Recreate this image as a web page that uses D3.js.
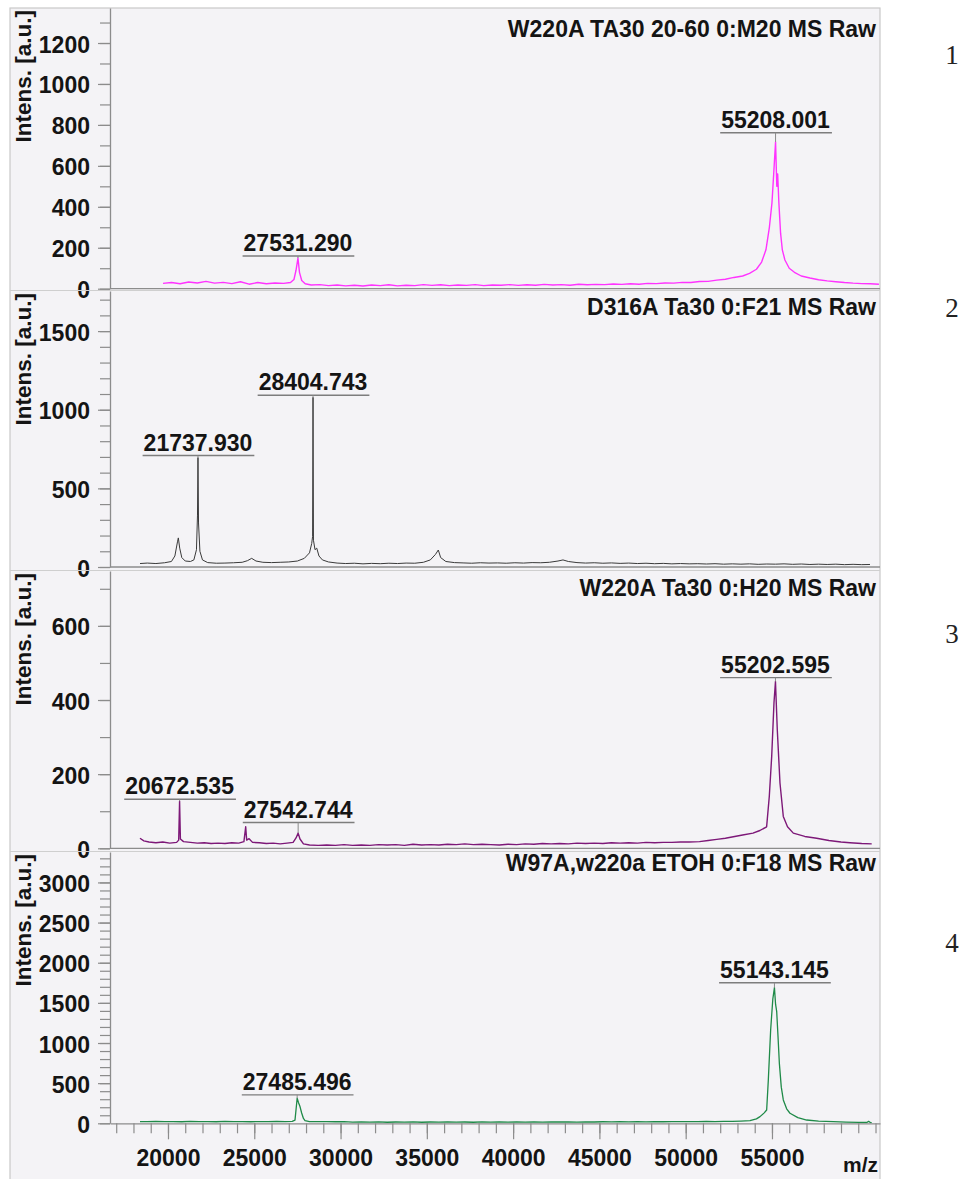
<!DOCTYPE html>
<html>
<head>
<meta charset="utf-8">
<script src="https://cdn.jsdelivr.net/npm/d3@7"></script>
<style>
  body { margin: 0; background: #ffffff; }
  svg text { font-family: "Liberation Sans", Arial, Helvetica, sans-serif; font-weight: bold; fill: #141414; }
  svg text.panel-no { font-family: "Liberation Serif", "Times New Roman", serif; font-weight: normal; fill: #222; }
</style>
</head>
<body>
<svg id="chart" width="962" height="1179"></svg>
<script>
// ---- m/z axis ----
const mzDomain = [16640, 61260];
const mzMajorTicks = [20000, 25000, 30000, 35000, 40000, 45000, 50000, 55000];
const mzMinorTicks = d3.range(17000, 61001, 1000);

// ---- spectrum titles ----
const titles = [
  "W220A TA30 20-60 0:M20 MS Raw",
  "D316A Ta30 0:F21 MS Raw",
  "W220A Ta30 0:H20 MS Raw",
  "W97A,w220a ETOH 0:F18 MS Raw"
];
const panelNumbers = ["1", "2", "3", "4"];

// ---- intensity axes ----
const intensMax = [1371, 1755, 748, 3379];
const intensTicks = [
  [0, 200, 400, 600, 800, 1000, 1200],
  [0, 500, 1000, 1500],
  [0, 200, 400, 600],
  [0, 500, 1000, 1500, 2000, 2500, 3000]
];

// ---- spectra: [m/z, intensity] ----
const spectrumW220A_M20 = [
  [19710, 26], [20200, 30], [20700, 24], [21200, 33], [21700, 28], [22200, 36], [22700, 27],
  [23200, 31], [23700, 25], [24200, 34], [24700, 22], [25200, 30], [25700, 24], [26200, 28],
  [26700, 26], [27100, 30], [27300, 45], [27420, 90], [27531.290, 150], [27620, 80], [27750, 40],
  [27950, 24], [28300, 18], [28800, 20], [29300, 15], [29800, 18], [30300, 14], [30800, 17],
  [31300, 13], [31800, 18], [32300, 15], [32800, 19], [33300, 14], [33800, 17], [34300, 15],
  [34800, 20], [35300, 16], [35800, 19], [36300, 15], [36800, 18], [37300, 16], [37800, 20],
  [38300, 15], [38800, 18], [39300, 17], [39800, 20], [40300, 16], [40800, 19], [41300, 17],
  [41800, 21], [42300, 18], [42800, 20], [43300, 17], [43800, 22], [44300, 19], [44800, 21],
  [45300, 20], [45800, 23], [46300, 21], [46800, 24], [47300, 22], [47800, 26], [48300, 25],
  [48800, 28], [49300, 27], [49800, 31], [50300, 30], [50800, 35], [51300, 36], [51800, 42],
  [52300, 46], [52800, 55], [53300, 62], [53700, 75], [54100, 95], [54400, 130], [54650, 190],
  [54850, 300], [55000, 420], [55100, 560], [55208.001, 717], [55280, 500], [55330, 560],
  [55400, 420], [55500, 270], [55600, 190], [55750, 140], [56000, 100], [56300, 80], [56700, 62],
  [57200, 52], [57700, 44], [58200, 38], [58700, 34], [59200, 30], [59700, 27], [60200, 25],
  [60700, 24], [61200, 22]
];

const spectrumD316A_F21 = [
  [18380, 22], [18800, 25], [19300, 22], [19800, 27], [20200, 35], [20400, 70], [20550, 160],
  [20600, 185], [20680, 120], [20800, 60], [21000, 38], [21300, 35], [21500, 45], [21650, 110],
  [21710, 330], [21737.930, 696], [21770, 280], [21850, 100], [22000, 45], [22300, 28], [22800, 24],
  [23300, 25], [23800, 27], [24300, 30], [24600, 40], [24850, 55], [25100, 38], [25500, 30],
  [26000, 28], [26500, 30], [27000, 32], [27500, 38], [27900, 55], [28200, 90], [28330, 150],
  [28380, 195], [28404.743, 1079], [28430, 170], [28520, 110], [28620, 120], [28750, 70],
  [28950, 45], [29300, 32], [29800, 25], [30300, 22], [30800, 24], [31300, 20], [31800, 23],
  [32300, 21], [32800, 24], [33300, 22], [33800, 25], [34300, 24], [34800, 30], [35200, 45],
  [35500, 80], [35665, 108], [35800, 60], [36100, 35], [36600, 28], [37100, 26], [37600, 24],
  [38100, 27], [38600, 25], [39100, 26], [39600, 24], [40100, 27], [40600, 25], [41100, 28],
  [41600, 27], [42100, 30], [42600, 38], [42890, 45], [43200, 35], [43700, 28], [44200, 25],
  [44700, 27], [45200, 24], [45700, 26], [46200, 23], [46700, 25], [47200, 22], [47700, 24],
  [48200, 21], [48700, 23], [49200, 20], [49700, 22], [50200, 20], [50700, 21], [51200, 19],
  [51700, 21], [52200, 18], [52700, 20], [53200, 18], [53700, 20], [54200, 17], [54700, 19],
  [55200, 18], [55700, 20], [56200, 17], [56700, 19], [57200, 16], [57700, 18], [58200, 16],
  [58700, 18], [59200, 15], [59700, 17], [60200, 15], [60680, 16]
];

const spectrumW220A_H20 = [
  [18378, 27], [18600, 20], [18900, 17], [19300, 15], [19700, 17], [20100, 14], [20500, 16],
  [20620, 22], [20672.535, 127], [20720, 25], [20900, 18], [21300, 16], [21700, 14], [22100, 15],
  [22500, 13], [22900, 14], [23300, 13], [23700, 15], [24100, 14], [24400, 18], [24503, 58],
  [24560, 22], [24700, 26], [24900, 16], [25300, 15], [25700, 13], [26100, 14], [26500, 12],
  [26900, 14], [27250, 16], [27420, 28], [27542.744, 41], [27650, 25], [27850, 12], [28200, 9],
  [28700, 8], [29200, 9], [29700, 8], [30200, 10], [30700, 8], [31200, 9], [31700, 8], [32200, 10],
  [32700, 9], [33200, 10], [33700, 8], [34200, 11], [34700, 9], [35200, 10], [35700, 9], [36200, 11],
  [36700, 10], [37200, 12], [37700, 10], [38200, 11], [38700, 10], [39200, 9], [39700, 11],
  [40200, 10], [40700, 12], [41200, 11], [41700, 13], [42200, 12], [42700, 13], [43200, 12],
  [43700, 14], [44200, 13], [44700, 14], [45200, 13], [45700, 15], [46200, 14], [46700, 15],
  [47200, 14], [47700, 16], [48200, 15], [48700, 16], [49200, 16], [49700, 17], [50200, 17],
  [50800, 18], [51300, 21], [51800, 24], [52300, 27], [52760, 31], [53300, 36], [53900, 41],
  [54300, 48], [54690, 58], [54845, 140], [54984, 248], [55117, 393], [55202.595, 450],
  [55308, 320], [55464, 176], [55656, 86], [55900, 58], [56236, 41], [56900, 32], [57590, 27],
  [58300, 21], [59000, 17], [59520, 15], [60200, 13], [60780, 12]
];

const spectrumW97A_F18 = [
  [18378, 22], [18800, 20], [19300, 24], [19800, 20], [20300, 22], [20800, 19], [21300, 23],
  [21800, 20], [22300, 22], [22800, 19], [23300, 23], [23800, 20], [24300, 22], [24800, 19],
  [25300, 22], [25800, 20], [26300, 23], [26800, 21], [27200, 24], [27360, 40], [27485.496, 312],
  [27560, 260], [27650, 208], [27746, 128], [27850, 60], [27940, 33], [28200, 22], [28700, 20],
  [29200, 22], [29700, 19], [30200, 21], [30700, 15], [31200, 18], [31700, 14], [32200, 17],
  [32700, 13], [33200, 16], [33700, 14], [34200, 17], [34700, 13], [35200, 16], [35700, 14],
  [36200, 17], [36700, 14], [37200, 16], [37700, 13], [38200, 17], [38700, 14], [39200, 16],
  [39700, 15], [40200, 17], [40700, 14], [41200, 18], [41700, 15], [42200, 17], [42700, 16],
  [43200, 18], [43700, 15], [44200, 18], [44700, 16], [45200, 19], [45700, 17], [46200, 19],
  [46700, 17], [47200, 20], [47700, 18], [48200, 21], [48700, 19], [49200, 21], [49700, 20],
  [50200, 22], [50700, 21], [51200, 23], [51700, 22], [52200, 24], [52700, 25], [53200, 28],
  [53726, 33], [54100, 55], [54306, 83], [54550, 130], [54692, 166], [54789, 541], [54924, 1166],
  [55050, 1550], [55143.145, 1690], [55210, 1480], [55273, 1395], [55350, 1080], [55427, 750],
  [55540, 450], [55657, 291], [55850, 180], [56044, 125], [56500, 70], [57010, 41], [57700, 28],
  [58555, 20], [59300, 15], [60000, 11], [60500, 10], [60600, 25], [60700, 9], [60780, 8]
];

const spectra = [spectrumW220A_M20, spectrumD316A_F21, spectrumW220A_H20, spectrumW97A_F18];
const spectrumColors = ["#ff33ff", "#3a3a3a", "#7d1878", "#1f8a48"];
const spectrumWidths = [1.4, 1.0, 1.4, 1.3];

// ---- annotated peak lists: [m/z, reported intensity] ----
const peaksW220A_M20 = [[27531.290, 150], [55208.001, 752]];
const peaksD316A_F21 = [[21737.930, 696], [28404.743, 1079]];
const peaksW220A_H20 = [[20672.535, 127], [27542.744, 64], [55202.595, 455]];
const peaksW97A_F18 = [[27485.496, 329], [55143.145, 1725]];
const peakLists = [peaksW220A_M20, peaksD316A_F21, peaksW220A_H20, peaksW97A_F18];

// ---- layout ----
const plotLeft = 110, plotRight = 880;
const panels = [
  { top: 8,   zero: 288.7 },
  { top: 291, zero: 567 },
  { top: 571, zero: 848.3 },
  { top: 852, zero: 1123.3 }
];
const numberBaselines = [64, 317, 643, 952];
const axisGray = "#8c8c8c";

const svg = d3.select("#chart");

// frame background
svg.append("rect")
  .attr("x", 10).attr("y", 8)
  .attr("width", 870).attr("height", 1185)
  .attr("fill", "#f4f3f6")
  .attr("stroke", "#c9c9c9").attr("stroke-width", 1.2);

const x = d3.scaleLinear().domain(mzDomain).range([plotLeft, plotRight]);
const fmtMz = d3.format(".3f");

panels.forEach((p, i) => {
  const y = d3.scaleLinear().domain([0, intensMax[i]]).range([p.zero, p.top]);
  const g = svg.append("g");

  // separator above lower panels
  if (i > 0) {
    g.append("line")
      .attr("x1", 10).attr("x2", plotRight)
      .attr("y1", p.top - 0.5).attr("y2", p.top - 0.5)
      .attr("stroke", "#cfcfcf").attr("stroke-width", 1.2);
  }

  // clip for the trace
  const clipId = "clip" + i;
  svg.append("clipPath").attr("id", clipId)
    .append("rect")
    .attr("x", plotLeft).attr("y", p.top)
    .attr("width", plotRight - plotLeft).attr("height", p.zero - p.top);

  // minor intensity ticks
  const minorAxis = d3.axisLeft(y)
    .tickValues(d3.range(0, intensMax[i], 100))
    .tickSize(10).tickSizeOuter(0).tickFormat("");
  const gMinor = g.append("g").attr("transform", `translate(${plotLeft},0)`).call(minorAxis);
  gMinor.select(".domain").remove();
  gMinor.selectAll(".tick line").attr("stroke", axisGray).attr("stroke-width", 1.2);

  // major intensity ticks and labels
  const majorAxis = d3.axisLeft(y)
    .tickValues(intensTicks[i])
    .tickSize(12).tickSizeOuter(0).tickPadding(8)
    .tickFormat(d3.format("d"));
  const gMajor = g.append("g").attr("transform", `translate(${plotLeft},0)`).call(majorAxis);
  gMajor.select(".domain").attr("stroke", axisGray).attr("stroke-width", 1.3);
  gMajor.selectAll(".tick line").attr("stroke", axisGray).attr("stroke-width", 1.2);
  gMajor.selectAll(".tick text")
    .attr("font-size", 23).attr("dy", null).attr("y", 9)
    .attr("fill", "#141414");

  // m/z axis line
  if (i < panels.length - 1) {
    g.append("line")
      .attr("x1", plotLeft).attr("x2", plotRight)
      .attr("y1", p.zero).attr("y2", p.zero)
      .attr("stroke", axisGray).attr("stroke-width", 1.3);
  } else {
    const minorX = d3.axisBottom(x).tickValues(mzMinorTicks)
      .tickSize(10).tickSizeOuter(0).tickFormat("");
    const gxm = g.append("g").attr("transform", `translate(0,${p.zero})`).call(minorX);
    gxm.select(".domain").attr("stroke", axisGray).attr("stroke-width", 1.3);
    gxm.selectAll(".tick line").attr("stroke", axisGray).attr("stroke-width", 1.2);

    const majorX = d3.axisBottom(x).tickValues(mzMajorTicks)
      .tickSize(16).tickSizeOuter(0).tickPadding(10).tickFormat(d3.format("d"));
    const gx = g.append("g").attr("transform", `translate(0,${p.zero})`).call(majorX);
    gx.select(".domain").remove();
    gx.selectAll(".tick line").attr("stroke", axisGray).attr("stroke-width", 1.2);
    gx.selectAll(".tick text").attr("font-size", 23).attr("fill", "#141414");

    g.append("text")
      .attr("x", 878).attr("y", 1172)
      .attr("text-anchor", "end").attr("font-size", 21)
      .text("m/z");
  }

  // spectrum trace
  const line = d3.line().x(d => x(d[0])).y(d => y(d[1]));
  g.append("path")
    .datum(spectra[i])
    .attr("clip-path", `url(#${clipId})`)
    .attr("fill", "none")
    .attr("stroke", spectrumColors[i])
    .attr("stroke-width", spectrumWidths[i])
    .attr("stroke-linejoin", "round")
    .attr("d", line);

  // title
  g.append("text")
    .attr("x", 876).attr("y", p.zero - 252)
    .attr("text-anchor", "end").attr("font-size", 23)
    .text(titles[i]);

  // intensity axis label
  g.append("text")
    .attr("transform", `translate(31,${p.top + 2}) rotate(-90)`)
    .attr("text-anchor", "end").attr("font-size", 22.5)
    .text("Intens. [a.u.]");

  // peak annotations
  peakLists[i].forEach(([mz, intens]) => {
    const px = x(mz);
    const underY = y(intens) - 2;
    const nearest = spectra[i].reduce((a, b) => Math.abs(b[0] - mz) < Math.abs(a[0] - mz) ? b : a);
    const traceY = y(nearest[1]);
    const t = g.append("text")
      .attr("x", px).attr("y", underY - 5)
      .attr("text-anchor", "middle").attr("font-size", 23)
      .text(fmtMz(mz));
    const w = t.node().getComputedTextLength();
    g.append("line")
      .attr("x1", px - w / 2 - 1).attr("x2", px + w / 2 + 2)
      .attr("y1", underY).attr("y2", underY)
      .attr("stroke", "#7d7d7d").attr("stroke-width", 1.4);
    if (traceY > underY) {
      g.append("line")
        .attr("x1", px).attr("x2", px)
        .attr("y1", underY).attr("y2", traceY)
        .attr("stroke", "#8a8a8a").attr("stroke-width", 1);
    }
  });

  // panel number at the right
  svg.append("text")
    .attr("class", "panel-no")
    .attr("x", 952).attr("y", numberBaselines[i])
    .attr("text-anchor", "middle").attr("font-size", 27)
    .text(panelNumbers[i]);
});
</script>
</body>
</html>
